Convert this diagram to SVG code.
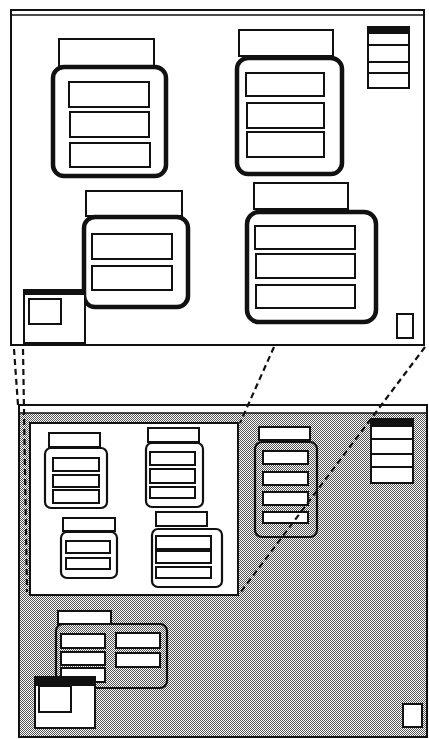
<svg xmlns="http://www.w3.org/2000/svg" width="429" height="739" viewBox="0 0 429 739">
<defs>
<pattern id="dots" width="2" height="2" patternUnits="userSpaceOnUse">
<rect width="2" height="2" fill="#fff"/>
<rect x="0" y="0" width="1" height="1" fill="#555"/>
<rect x="1" y="1" width="1" height="1" fill="#555"/>
</pattern>
</defs>
<style>
.frame{fill:#fff;stroke:#111;stroke-width:2}
.box{fill:#fff;stroke:#111;stroke-width:2}
.thick{fill:#fff;stroke:#111;stroke-width:4.5}
.mid{fill:#fff;stroke:#111;stroke-width:2.2}
.midd{fill:url(#dots);stroke:#111;stroke-width:2.2}
.bar{fill:#111}
.dash{fill:none;stroke:#111;stroke-width:2.2;stroke-dasharray:6 4}
</style>
<rect width="429" height="739" fill="#fff"/>

<!-- top panel -->
<g id="top-panel">
<rect class="frame" x="11" y="10" width="413" height="335"/>
<line x1="11" y1="15" x2="424" y2="15" stroke="#111" stroke-width="1.5"/>
</g>
<g id="node-A">
<rect class="box" x="59" y="39" width="95" height="27"/>
<rect class="thick" x="53" y="67" width="113" height="109" rx="11"/>
<rect class="box" x="69" y="82" width="80" height="25"/>
<rect class="box" x="70" y="112" width="79" height="25"/>
<rect class="box" x="70" y="143" width="80" height="24"/>
</g>
<g id="node-B">
<rect class="box" x="239" y="30" width="94" height="26"/>
<rect class="thick" x="237" y="58" width="105" height="116" rx="11"/>
<rect class="box" x="246" y="73" width="78" height="23"/>
<rect class="box" x="247" y="103" width="77" height="25"/>
<rect class="box" x="247" y="132" width="77" height="25"/>
</g>
<g id="node-C">
<rect class="box" x="368" y="27" width="41" height="61"/>
<rect class="bar" x="368" y="27" width="41" height="7"/>
<line x1="368" y1="45" x2="409" y2="45" stroke="#111" stroke-width="2"/>
<line x1="368" y1="62" x2="409" y2="62" stroke="#111" stroke-width="2"/>
<line x1="368" y1="73" x2="409" y2="73" stroke="#111" stroke-width="2"/>
</g>
<g id="node-D">
<rect class="box" x="86" y="191" width="96" height="25"/>
<rect class="thick" x="84" y="217" width="104" height="90" rx="11"/>
<rect class="box" x="92" y="234" width="80" height="25"/>
<rect class="box" x="92" y="266" width="80" height="24"/>
</g>
<g id="node-E">
<rect class="box" x="254" y="183" width="94" height="26"/>
<rect class="thick" x="247" y="212" width="129" height="110" rx="12"/>
<rect class="box" x="255" y="226" width="100" height="23"/>
<rect class="box" x="256" y="254" width="99" height="24"/>
<rect class="box" x="256" y="285" width="99" height="23"/>
</g>
<g id="node-F">
<rect class="box" x="24" y="290" width="61" height="53"/>
<rect class="bar" x="24" y="290" width="61" height="5"/>
<rect class="box" x="29" y="299" width="32" height="25"/>
</g>
<g id="node-G">
<rect class="box" x="397" y="314" width="16" height="24"/>
</g>

<!-- bottom panel -->
<g id="bottom-panel">
<rect x="19" y="405" width="408" height="332" fill="#fff" stroke="#111" stroke-width="2"/>
<rect x="20" y="413" width="406" height="323" fill="url(#dots)"/>
<line x1="19" y1="413" x2="427" y2="413" stroke="#111" stroke-width="1.5"/>
</g>
<g id="window-W">
<rect class="frame" x="30" y="423" width="208" height="172"/>
</g>
<g id="node-a">
<rect class="box" x="49" y="433" width="51" height="14"/>
<rect class="mid" x="45" y="448" width="62" height="60" rx="6"/>
<rect class="box" x="53" y="458" width="46" height="13"/>
<rect class="box" x="53" y="475" width="46" height="12"/>
<rect class="box" x="53" y="490" width="46" height="13"/>
</g>
<g id="node-b">
<rect class="box" x="148" y="428" width="51" height="14"/>
<rect class="mid" x="146" y="443" width="57" height="64" rx="6"/>
<rect class="box" x="150" y="452" width="45" height="13"/>
<rect class="box" x="150" y="469" width="45" height="14"/>
<rect class="box" x="150" y="487" width="45" height="11"/>
</g>
<g id="node-c">
<rect class="box" x="63" y="518" width="52" height="13"/>
<rect class="mid" x="61" y="532" width="56" height="46" rx="6"/>
<rect class="box" x="66" y="541" width="44" height="12"/>
<rect class="box" x="66" y="558" width="44" height="11"/>
</g>
<g id="node-d">
<rect class="box" x="156" y="512" width="51" height="14"/>
<rect class="mid" x="152" y="529" width="70" height="58" rx="6"/>
<rect class="box" x="156" y="536" width="55" height="13" stroke-width="2.5"/>
<rect class="box" x="156" y="551" width="55" height="12"/>
<rect class="box" x="156" y="567" width="55" height="11"/>
</g>
<g id="node-e">
<rect class="box" x="259" y="427" width="51" height="13"/>
<rect class="midd" x="255" y="442" width="62" height="95" rx="7"/>
<rect class="box" x="263" y="451" width="45" height="13"/>
<rect class="box" x="263" y="472" width="45" height="13"/>
<rect class="box" x="263" y="492" width="45" height="13"/>
<rect class="box" x="263" y="512" width="45" height="11"/>
</g>
<g id="node-list">
<rect class="box" x="371" y="419" width="42" height="64"/>
<rect class="bar" x="371" y="419" width="42" height="8"/>
<line x1="371" y1="439" x2="413" y2="439" stroke="#111" stroke-width="2"/>
<line x1="371" y1="454" x2="413" y2="454" stroke="#111" stroke-width="2"/>
<line x1="371" y1="467" x2="413" y2="467" stroke="#111" stroke-width="2"/>
</g>
<g id="node-f">
<rect class="box" x="58" y="611" width="53" height="13"/>
<rect class="midd" x="56" y="624" width="111" height="64" rx="7"/>
<rect class="box" x="61" y="634" width="44" height="14"/>
<rect class="box" x="61" y="652" width="44" height="13"/>
<rect class="box" x="61" y="668" width="44" height="14"/>
<rect class="box" x="116" y="633" width="44" height="15"/>
<rect class="box" x="116" y="653" width="44" height="14"/>
</g>
<g id="node-window">
<rect class="box" x="35" y="677" width="60" height="51"/>
<rect class="bar" x="35" y="677" width="60" height="9"/>
<rect class="box" x="39" y="686" width="32" height="26"/>
</g>
<g id="node-small">
<rect class="box" x="403" y="704" width="19" height="23"/>
</g>

<g id="connectors">
<line class="dash" x1="14" y1="349" x2="18" y2="405"/>
<line class="dash" x1="23" y1="349" x2="27" y2="592"/>
<line class="dash" x1="274" y1="347" x2="240" y2="423"/>
<line class="dash" x1="425" y1="347" x2="240" y2="593"/>
</g>
</svg>
